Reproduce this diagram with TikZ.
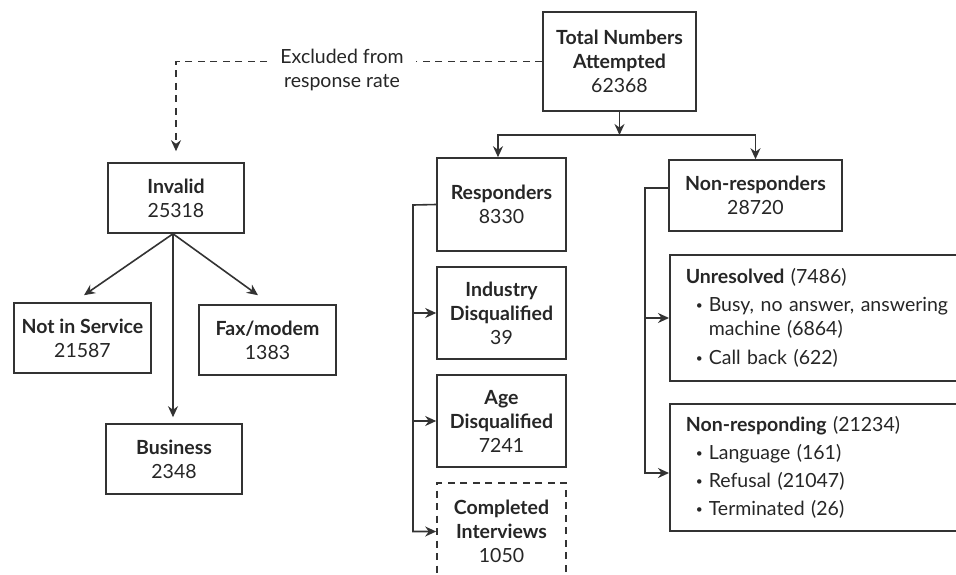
\documentclass[tikz,border=0pt]{standalone}
\usepackage{fontspec}
\setmainfont{Lato}
\usetikzlibrary{arrows.meta}
\definecolor{lc}{HTML}{333333}
\definecolor{tc}{HTML}{262626}
\newcommand\bulmark{\hspace*{10pt}\makebox[13pt][l]{\raisebox{2pt}{\fontsize{12}{12}\selectfont •}}}
\begin{document}
\begin{tikzpicture}[x=1pt,y=-1pt,
  box/.style={draw=lc, line width=1.6pt, inner sep=0pt, align=center, text=tc,
    font=\fontsize{19.5}{24}\selectfont},
  lbox/.style={box, align=left, anchor=west, inner xsep=16pt, inner ysep=0pt, text width=#1},
  conn/.style={draw=lc, line width=1.6pt},
  arr/.style={conn, -{Stealth[length=11pt,width=10pt]}},
  dashy/.style={dash pattern=on 7pt off 5.5pt},
  note/.style={text=tc, align=center, font=\fontsize{19.5}{24}\selectfont, fill=white, inner xsep=12pt, inner ysep=2pt}
]
\useasboundingbox[fill=white] (0,0) rectangle (956,574);

% top
\node[box, minimum width=153pt, minimum height=99pt] (total) at (619.5,61.5)
  {\textbf{Total Numbers}\\\textbf{Attempted}\\62368};
\node[box, minimum width=129pt, minimum height=93pt] (resp) at (501.5,204.5)
  {\textbf{Responders}\\8330};
\node[box, minimum width=173pt, minimum height=71pt] (nonresp) at (755.5,195.5)
  {\textbf{Non-responders}\\28720};

% responders column
\node[box, minimum width=129pt, minimum height=92pt] (indus) at (501.5,313)
  {\textbf{Industry}\\\textbf{Disqualified}\\39};
\node[box, minimum width=129pt, minimum height=92pt] (age) at (501.5,421)
  {\textbf{Age}\\\textbf{Disqualified}\\7241};
\node[box, dashy, minimum width=129pt, minimum height=97pt] (compl) at (501.5,531.5)
  {\textbf{Completed}\\\textbf{Interviews}\\1050};

% non-responders column
\node[lbox=300pt, minimum height=126pt] (unres) at (669,318)
  {\textbf{Unresolved} (7486)\\[4pt]
   \bulmark Busy, no answer, answering\\
   \hspace*{23pt}machine (6864)\\[5pt]
   \bulmark Call back (622)};
\node[lbox=300pt, minimum height=127pt] (nonrsp) at (669,467.5)
  {\textbf{Non-responding} (21234)\\[4pt]
   \bulmark Language (161)\\[4pt]
   \bulmark Refusal (21047)\\[4pt]
   \bulmark Terminated (26)};

% invalid tree
\node[box, minimum width=136pt, minimum height=70pt] (invalid) at (176,198)
  {\textbf{Invalid}\\25318};
\node[box, minimum width=137pt, minimum height=70pt] (notin) at (82.5,338)
  {\textbf{Not in Service}\\21587};
\node[box, minimum width=137pt, minimum height=70pt] (fax) at (267.5,340)
  {\textbf{Fax/modem}\\1383};
\node[box, minimum width=136pt, minimum height=70pt] (business) at (174,459)
  {\textbf{Business}\\2348};

% total -> responders / non-responders
\coordinate (split) at (619.5,135);
\draw[arr] (total.south) -- (split);
\draw[arr] (split) -| ([xshift=-3.5pt]resp.north);
\draw[arr] (split) -| (nonresp.north);

% responders bracket
\coordinate (rtop) at (413,205);
\draw[arr] (resp.west) -- (rtop) |- (compl.west);
\draw[arr] (rtop |- indus.west) -- (indus.west);
\draw[arr] (rtop |- age.west) -- (age.west);

% non-responders bracket
\coordinate (ntop) at (645,188);
\draw[arr] ([yshift=7.5pt]nonresp.west) -- (ntop) |- ([yshift=-5.5pt]nonrsp.west);
\draw[arr] (ntop |- unres.west) -- (unres.west);

% invalid arrows
\coordinate (ivs) at ([xshift=-3pt]invalid.south);
\coordinate (bt) at (ivs |- business.north);
\draw[arr] (ivs) -- ([shift={(1.5pt,7pt)}]notin.north);
\draw[arr] (ivs) -- ([shift={(-9.5pt,9pt)}]fax.north);
\draw[arr] (ivs) -- ([yshift=6pt]bt);

% excluded dashed connector
\draw[conn, dashy, -{Stealth[length=11pt,width=10pt]}] (total.west) -| ([yshift=11pt]invalid.north);
\node[note] (excl) at (342,70) {Excluded from\\response rate};
\end{tikzpicture}
\end{document}
